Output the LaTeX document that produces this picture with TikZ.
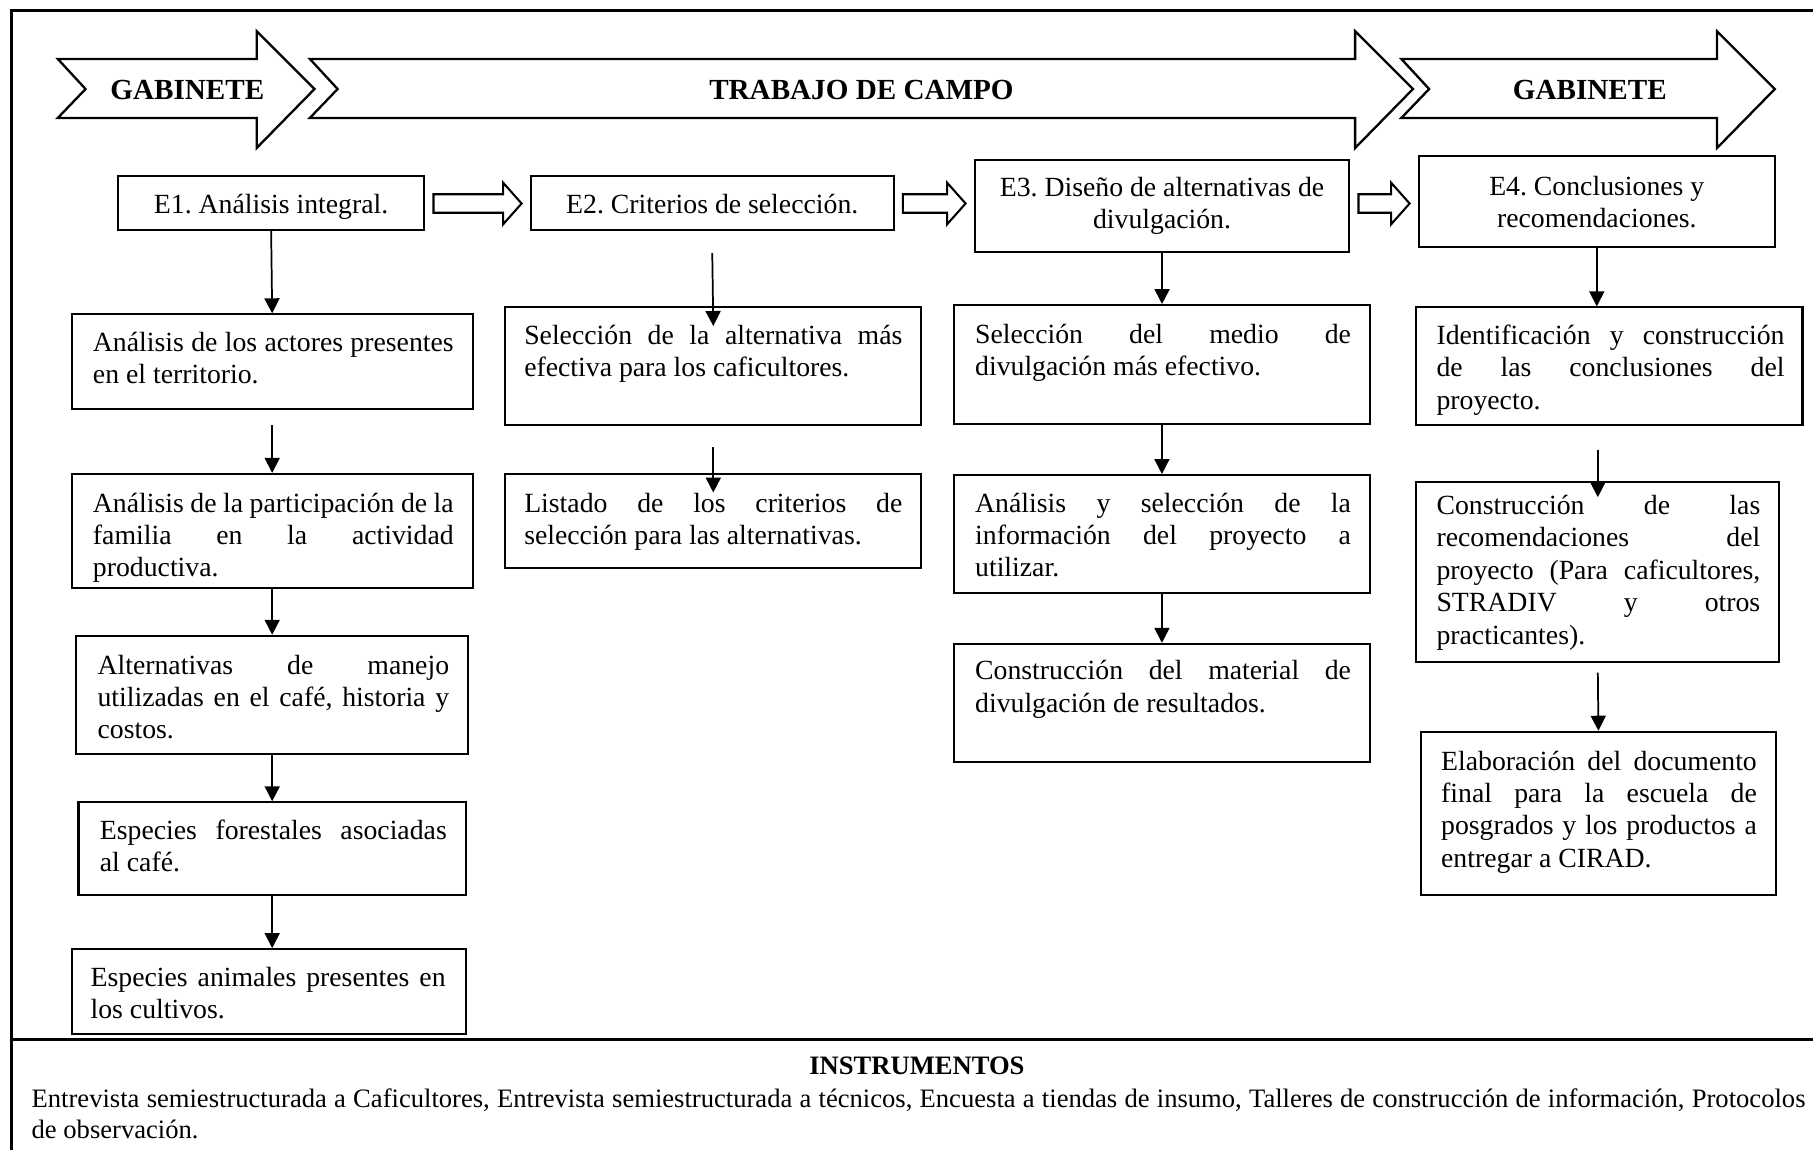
\documentclass[tikz,border=0pt]{standalone}
\usepackage{fontspec}
\setmainfont{Liberation Serif}
\usetikzlibrary{calc,positioning,arrows.meta}
\hyphenpenalty=10000
\frenchspacing

\tikzset{
  fase/.style={draw, line width=1pt},
  etapa/.style={draw, line width=0.9pt, rectangle, align=center, inner sep=2pt},
  caja/.style={draw, line width=0.9pt, rectangle, anchor=north west},
  texto/.style={anchor=base west, inner sep=0pt, align=justify},
  hueca/.style={draw, line width=0.9pt},
  baja/.style={line width=0.75pt, -{Triangle[length=6.5pt,width=6.5pt]}}
}

\begin{document}
\begin{tikzpicture}[x=0.5pt, y=-0.5pt, font=\fontsize{12}{14}\selectfont]

  \useasboundingbox (0,0) rectangle (1568,994);

  % marco
  \draw [line width=1pt] (1580,9) -- (10,9) -- (10,1000);
  \draw [line width=1pt] (10,899) -- (1580,899);

  % fases
  \foreach \xa/\xb/\xc/\xt/\lab/\nm in {50/222/272/162/GABINETE/fase_1, 268/1172/1222/745/TRABAJO DE CAMPO/fase_2, 1212/1485/1535/1375/GABINETE/fase_3}
  {
    \draw [fase] (\xa,51) -- (\xb,51) -- (\xb,27) -- (\xc,77) -- (\xb,128) -- (\xb,102) -- (\xa,102) -- ($(\xa,77)+(24,0)$) -- cycle;
    \node [font=\fontsize{12.6}{14}\selectfont\bfseries] at (\xt,78) (\nm) {\lab};
  }

  % etapas
  \node [etapa, minimum width=132.5pt, minimum height=23.5pt, text height=10.5pt, text depth=1.5pt] at (234.5,175.5) (e_1) {E1. Análisis integral.};
  \node [etapa, minimum width=157pt, minimum height=23.5pt, text height=10.5pt, text depth=1.5pt] at (616,175.5) (e_2) {E2. Criterios de selección.};
  \node [etapa, minimum width=162pt, minimum height=40pt] at (1005,178) (e_3) {E3. Diseño de alternativas de\\divulgación.};
  \node [etapa, minimum width=154pt, minimum height=39.5pt] at (1381,174.5) (e_4) {E4. Conclusiones y\\recomendaciones.};

  \coordinate (eje) at (0,176);
  \foreach \a/\b in {e_1/e_2, e_2/e_3, e_3/e_4}
  {
    \draw [hueca] ($(\a.east |- eje)+(7,-8)$) -- ($(\b.west |- eje)+(-23,-8)$) -- ($(\b.west |- eje)+(-23,-18)$) -- ($(\b.west |- eje)+(-7,0)$)
      -- ($(\b.west |- eje)+(-23,18)$) -- ($(\b.west |- eje)+(-23,8)$) -- ($(\a.east |- eje)+(7,8)$) -- cycle;
  }

  % columna E1
  \node [caja, minimum width=173.5pt, minimum height=41pt] at (61,271) (caja_1_1) {};
  \node [texto, text width=156pt] at ($(caja_1_1.north west)+(19,33)$) (txt_1_1) {Análisis de los actores presentes\linebreak en el territorio.};
  \node [caja, minimum width=173.5pt, minimum height=49.5pt] at (61,409) (caja_1_2) {};
  \node [texto, text width=156pt] at ($(caja_1_2.north west)+(19,34)$) (txt_1_2) {Análisis de la participación de la\linebreak familia en la actividad\linebreak productiva.};
  \node [caja, minimum width=169.5pt, minimum height=51pt] at (65,549) (caja_1_3) {};
  \node [texto, text width=152pt] at ($(caja_1_3.north west)+(19,34)$) (txt_1_3) {Alternativas de manejo\linebreak utilizadas en el café, historia y\linebreak costos.};
  \node [caja, minimum width=167.5pt, minimum height=40pt] at (67,693) (caja_1_4) {};
  \node [texto, text width=150pt] at ($(caja_1_4.north west)+(19,33)$) (txt_1_4) {Especies forestales asociadas\linebreak al café.};
  \node [caja, minimum width=170.5pt, minimum height=36.5pt] at (61,820) (caja_1_5) {};
  \node [texto, text width=153.5pt] at ($(caja_1_5.north west)+(17,33)$) (txt_1_5) {Especies animales presentes en\linebreak los cultivos.};

  \draw [baja] (e_1.south) -- (caja_1_1.north);
  \draw [baja] ($(caja_1_1.south)+(0,13)$) -- (caja_1_2.north);
  \draw [baja] (caja_1_2.south) -- (caja_1_3.north);
  \draw [baja] (caja_1_3.south) -- (caja_1_4.north);
  \draw [baja] (caja_1_4.south) -- (caja_1_4.south |- caja_1_5.north);

  % columna E2
  \node [caja, minimum width=180pt, minimum height=51pt] at (436,265) (caja_2_1) {};
  \node [texto, text width=163.5pt] at ($(caja_2_1.north west)+(17,33)$) (txt_2_1) {Selección de la alternativa más\linebreak efectiva para los caficultores.};
  \node [caja, minimum width=180pt, minimum height=40.5pt] at (436,409) (caja_2_2) {};
  \node [texto, text width=163.5pt] at ($(caja_2_2.north west)+(17,34)$) (txt_2_2) {Listado de los criterios de\linebreak selección para las alternativas.};

  \draw [baja] ($(e_2.south)+(0,19)$) -- ($(caja_2_1.north)+(0,17)$);
  \draw [baja] ($(caja_2_1.south)+(0,18)$) -- ($(caja_2_2.north)+(0,17)$);

  % columna E3
  \node [caja, minimum width=180pt, minimum height=51.5pt] at (824,263) (caja_3_1) {};
  \node [texto, text width=162.5pt] at ($(caja_3_1.north west)+(19,34)$) (txt_3_1) {Selección del medio de\linebreak divulgación más efectivo.};
  \node [caja, minimum width=180pt, minimum height=51pt] at (824,410) (caja_3_2) {};
  \node [texto, text width=162.5pt] at ($(caja_3_2.north west)+(19,33)$) (txt_3_2) {Análisis y selección de la\linebreak información del proyecto a\linebreak utilizar.};
  \node [caja, minimum width=180pt, minimum height=51pt] at (824,556) (caja_3_3) {};
  \node [texto, text width=162.5pt] at ($(caja_3_3.north west)+(19,32)$) (txt_3_3) {Construcción del material de\linebreak divulgación de resultados.};

  \draw [baja] (e_3.south) -- (e_3.south |- caja_3_1.north);
  \draw [baja] (caja_3_1.south) -- (caja_3_2.north);
  \draw [baja] (caja_3_2.south) -- (caja_3_3.north);

  % columna E4
  \node [caja, minimum width=167pt, minimum height=51pt] at (1224,265) (caja_4_1) {};
  \node [texto, text width=150.5pt] at ($(caja_4_1.north west)+(18,33)$) (txt_4_1) {Identificación y construcción\linebreak de las conclusiones del\linebreak proyecto.};
  \node [caja, minimum width=157pt, minimum height=78pt] at (1224,416) (caja_4_2) {};
  \node [texto, text width=140pt] at ($(caja_4_2.north west)+(18,29)$) (txt_4_2) {Construcción de las\linebreak recomendaciones del\linebreak proyecto (Para caficultores,\linebreak STRADIV y otros\linebreak practicantes).};
  \node [caja, minimum width=153.5pt, minimum height=70.5pt] at (1228,632) (caja_4_3) {};
  \node [texto, text width=136.5pt] at ($(caja_4_3.north west)+(18,34)$) (txt_4_3) {Elaboración del documento\linebreak final para la escuela de\linebreak posgrados y los productos a\linebreak entregar a CIRAD.};

  \draw [baja] (e_4.south) -- (e_4.south |- caja_4_1.north);
  \draw [baja] ($(caja_4_2.north |- caja_4_1.south)+(0,20)$) -- ($(caja_4_2.north)+(0,14)$);
  \draw [baja] ($(caja_4_2.south)+(0,8)$) -- (caja_4_3.north);

  % instrumentos
  \node [font=\fontsize{11.5}{13.5}\selectfont\bfseries] at (793,922) (instr) {INSTRUMENTOS};
  \node [texto, text width=767pt, font=\fontsize{11.5}{13.5}\selectfont] at (27,958) (instr_txt) {Entrevista semiestructurada a Caficultores, Entrevista semiestructurada a técnicos, Encuesta a tiendas de insumo, Talleres de construcción de información, Protocolos\linebreak de observación.};

\end{tikzpicture}
\end{document}
